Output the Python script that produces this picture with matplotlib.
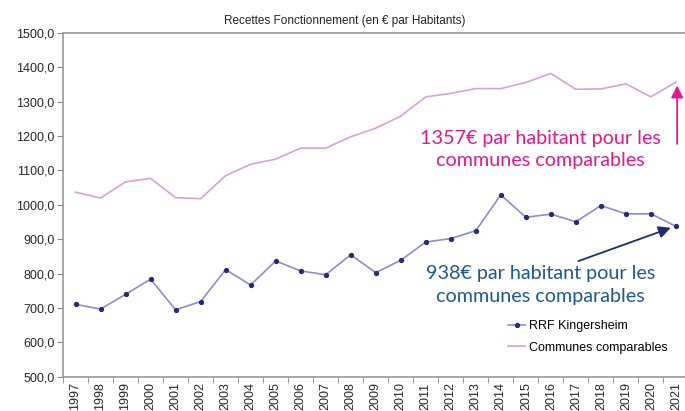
import numpy as np
import matplotlib
matplotlib.use('Agg')
from matplotlib import pyplot as plt

years = [str(y) for y in range(1997, 2022)]
rrf_kingersheim = [711, 697, 740, 784, 695, 719, 812, 767, 837, 808, 797, 855,
                   803, 839, 892, 902, 925, 1029, 964, 973, 951, 998, 974, 974, 938]
communes_comparables = [1037, 1020, 1067, 1077, 1021, 1018, 1085, 1118, 1133, 1165,
                        1165, 1198, 1223, 1258, 1314, 1324, 1338, 1338, 1356, 1382,
                        1336, 1337, 1352, 1314, 1357]
y_ticks = [500, 600, 700, 800, 900, 1000, 1100, 1200, 1300, 1400, 1500]

plt.rcParams['font.family'] = ['Liberation Sans', 'DejaVu Sans']

fig = plt.figure(figsize=(6.85, 4.11), dpi=100)
ax = fig.add_axes([0.092, 0.083, 0.913, 0.837])

x = np.arange(len(years))
ax.plot(x, rrf_kingersheim, color='#8c8cd2', lw=1.2, marker='o', ms=2.8,
        mfc='#232c7a', mec='#232c7a', label='RRF Kingersheim')
ax.plot(x, communes_comparables, color='#d8a2d4', lw=1.2,
        label='Communes comparables')

ax.set_xlim(-0.5, len(years) - 0.5)
ax.set_ylim(500, 1500)
ax.set_yticks(y_ticks)
ax.set_yticklabels([f'{v},0' for v in y_ticks], fontsize=9, color='#262626')
ax.set_xticks(x)
ax.set_xticklabels(years, rotation=90, fontsize=9, color='#262626')
ax.tick_params(axis='x', length=0, pad=4)
ax.tick_params(axis='y', length=4, color='#888888', pad=2)
ax.set_xticks(np.arange(-0.5, len(years)), minor=True)
ax.tick_params(axis='x', which='minor', length=4, color='#888888')

for side in ['left', 'bottom', 'top']:
    ax.spines[side].set_color('#999999')
    ax.spines[side].set_linewidth(1.2)
ax.spines['right'].set_visible(False)

fig.text(0.503, 0.949, 'Recettes Fonctionnement (en € par Habitants)',
         ha='center', va='center', fontsize=8.5, color='#222222')

ax.legend(loc='lower right', bbox_to_anchor=(0.985, 0.035), frameon=False,
          fontsize=9, handlelength=1.4, handletextpad=0.3, labelspacing=0.75)

ax.annotate('', xy=(24.05, 1355), xytext=(24.05, 1169),
            arrowprops=dict(arrowstyle='-|>', color='#e8168c', lw=1.3,
                            mutation_scale=18))
ax.text(18.6, 1161, '1357€ par habitant pour les\ncommunes comparables',
        ha='center', va='center', fontsize=14.2, color='#e8168c',
        family=['Lato', 'DejaVu Sans'], linespacing=1.37)

ax.annotate('', xy=(23.9, 936), xytext=(20.0, 834),
            arrowprops=dict(arrowstyle='-|>', color='#1f2d6b', lw=1.3,
                            mutation_scale=18))
ax.text(18.6, 767, '938€ par habitant pour les\ncommunes comparables',
        ha='center', va='center', fontsize=14.2, color='#1c5a8e',
        family=['Lato', 'DejaVu Sans'], linespacing=1.37)

fig.savefig('out.png', dpi=100, facecolor='white')
